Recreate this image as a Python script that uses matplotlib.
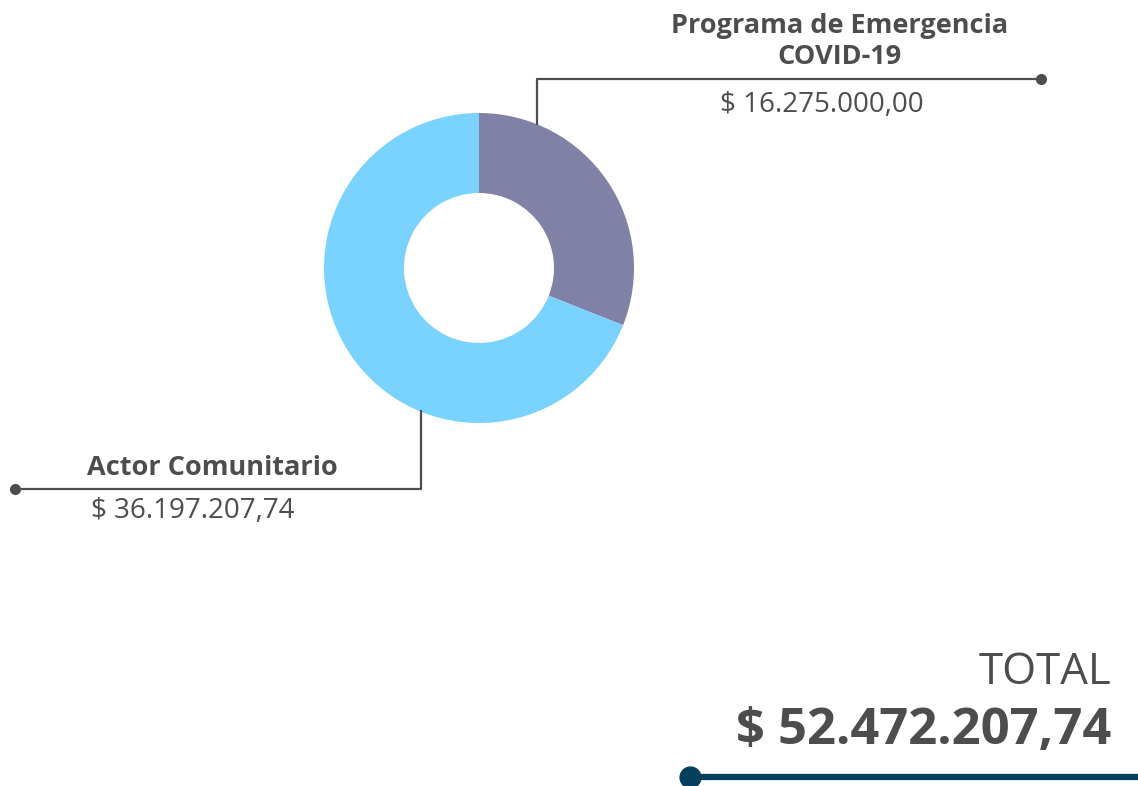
import matplotlib
matplotlib.use("Agg")
import matplotlib.pyplot as plt

categories = ["Programa de Emergencia\nCOVID-19", "Actor Comunitario"]
values = [16275000.00, 36197207.74]
colors = ["#8181A8", "#79D3FE"]

def fmt(v):
    s = f"{v:,.2f}"
    s = s.replace(",", "X").replace(".", ",").replace("X", ".")
    return "$ " + s

W, H = 1138, 786
fig = plt.figure(figsize=(W / 100, H / 100), dpi=100)
ax = fig.add_axes([0, 0, 1, 1])
ax.set_xlim(0, W)
ax.set_ylim(0, H)
ax.set_aspect("equal")
ax.axis("off")

def Y(y):
    return H - y

cx, cy, r = 479, 268, 155
ax.pie(values, colors=colors, startangle=90, counterclock=False,
       center=(cx, Y(cy)), radius=r, wedgeprops=dict(width=80, linewidth=0))
ax.set_xlim(0, W)
ax.set_ylim(0, H)

txt = "#4D4D4D"
font = "Open Sans"

# top leader
ax.plot([537, 537, 1041], [Y(125), Y(79), Y(79)], color=txt, lw=1.6, solid_capstyle="butt")
ax.plot([1041], [Y(79)], "o", color=txt, ms=7)
ax.text(840, Y(41.5), categories[0], ha="center", va="center", fontsize=19.5,
        fontweight="bold", color=txt, family=font, linespacing=1.25)
ax.text(822, Y(105), fmt(values[0]), ha="center", va="center", fontsize=20,
        color=txt, family=font)

# bottom leader
ax.plot([421, 421, 15], [Y(410), Y(489), Y(489)], color=txt, lw=1.6, solid_capstyle="butt")
ax.plot([15], [Y(489)], "o", color=txt, ms=7)
ax.text(212, Y(468), categories[1], ha="center", va="center", fontsize=19.5,
        fontweight="bold", color=txt, family=font)
ax.text(193, Y(511), fmt(values[1]), ha="center", va="center", fontsize=20,
        color=txt, family=font)

# total
ax.text(1111, Y(673), "TOTAL", ha="right", va="center", fontsize=31.5,
        color=txt, family=font)
ax.text(1111, Y(731), fmt(sum(values)), ha="right", va="center", fontsize=36.5,
        fontweight="bold", color=txt, family=font)
ax.plot([690, W], [Y(777), Y(777)], color="#043F5E", lw=4.5, solid_capstyle="butt")
ax.plot([690], [Y(777)], "o", color="#043F5E", ms=15)

fig.savefig("out.png", dpi=100)
